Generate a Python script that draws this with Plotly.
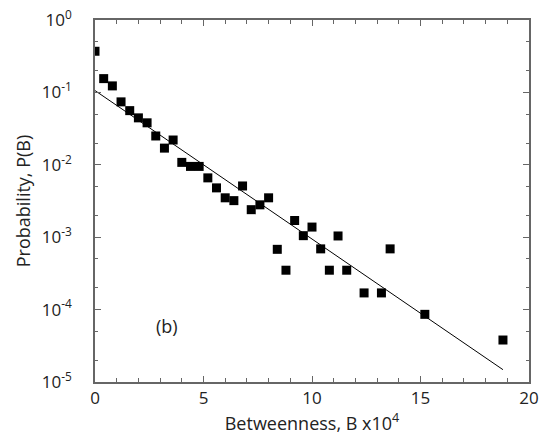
import plotly.graph_objects as go

# betweenness (x10^4) and probability
B = [0.0, 0.4, 0.8, 1.2, 1.6, 2.0, 2.4, 2.8, 3.2, 3.6, 4.0, 4.4, 4.8, 5.2, 5.6,
     6.0, 6.4, 6.8, 7.2, 7.6, 8.0, 8.4, 8.8, 9.2, 9.6, 10.0, 10.4, 10.8, 11.2,
     11.6, 12.4, 13.2, 13.6, 15.2, 18.8]
P = [0.37, 0.155, 0.123, 0.074, 0.056, 0.0445, 0.038, 0.025, 0.017, 0.022,
     0.0108, 0.0095, 0.0095, 0.0066, 0.0048, 0.0035, 0.0032, 0.0051, 0.0024,
     0.0028, 0.0035, 0.00068, 0.00035, 0.0017, 0.00105, 0.00138, 0.00069,
     0.00035, 0.00104, 0.00035, 0.00017, 0.00017, 0.00069, 0.000086, 0.000038]

# fitted exponential (straight on log scale)
fit_B = [0.0, 18.8]
fit_P = [0.106, 0.0000148]

ytick_vals = [1e-5, 1e-4, 1e-3, 1e-2, 1e-1, 1]
ytick_text = ["10<sup>-5</sup>", "10<sup>-4</sup>", "10<sup>-3</sup>",
              "10<sup>-2</sup>", "10<sup>-1</sup>", "10<sup>0</sup>"]

fig = go.Figure()
fig.add_trace(go.Scatter(x=fit_B, y=fit_P, mode="lines",
                         line=dict(color="black", width=1)))
fig.add_trace(go.Scatter(x=B, y=P, mode="markers",
                         marker=dict(symbol="square", size=9, color="black")))

font = dict(family="Open Sans, Noto Sans, sans-serif", size=17, color="#222")
tfont = dict(family="Open Sans, Noto Sans, sans-serif", size=18, color="#222")
axcol = "#666"

fig.update_xaxes(range=[0, 20], tickvals=[0, 5, 10, 15, 20],
                 ticks="inside", ticklen=6, tickcolor=axcol,
                 minor=dict(dtick=1, ticks="inside", ticklen=4, tickcolor=axcol),
                 showline=True, linecolor=axcol, linewidth=1.5, mirror="ticks",
                 showgrid=False, zeroline=False, tickfont=font, automargin=False,
                 title=dict(text="Betweenness, B x10<sup>4</sup>", font=tfont,
                            standoff=6))
fig.update_yaxes(type="log", range=[-5, 0], tickvals=ytick_vals,
                 ticktext=ytick_text, ticklabelstandoff=18,
                 ticks="inside", ticklen=6, tickcolor=axcol,
                 minor=dict(ticks="inside", ticklen=3, tickcolor=axcol),
                 showline=True, linecolor=axcol, linewidth=1.5, mirror="ticks",
                 showgrid=False, zeroline=False, tickfont=font, automargin=False,
                 title=dict(text="Probability, P(B)", font=tfont, standoff=6))

fig.add_annotation(x=3.3, y=-4.22, text="(b)", showarrow=False, font=tfont)

fig.update_layout(width=547, height=444, showlegend=False,
                  plot_bgcolor="white", paper_bgcolor="white",
                  margin=dict(l=95, r=18, t=20, b=62))

# drop the browser's default 8px body margin so the figure sits at 0,0
fig.write_html("out.html", config={"displayModeBar": False},
               post_script="document.body.style.margin='0';")
